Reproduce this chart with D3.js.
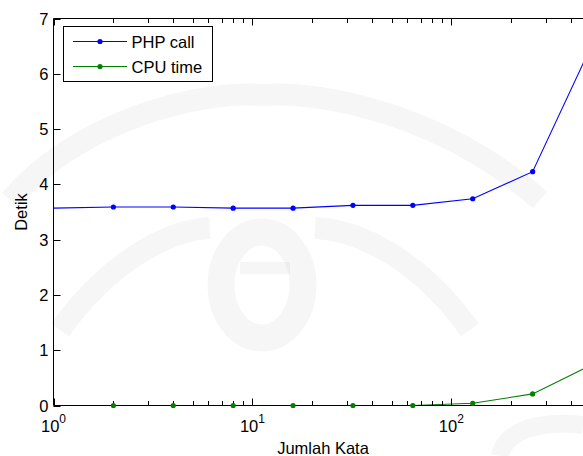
<!DOCTYPE html>
<html>
<head>
<meta charset="utf-8">
<script src="https://cdn.jsdelivr.net/npm/d3@7"></script>
<style>
  body { margin: 0; background: #fff; }
  svg { display: block; }
  text { font-family: "Liberation Sans", Arial, sans-serif; fill: #000; }
</style>
</head>
<body>
<div id="chart"></div>
<script>
// data
var jumlahKata = [1, 2, 4, 8, 16, 32, 64, 128, 256, 512];
var phpCall = [3.57, 3.59, 3.59, 3.57, 3.57, 3.62, 3.62, 3.74, 4.23, 6.55];
var cpuTime = [0, 0, 0, 0, 0, 0, 0, 0.04, 0.21, 0.74];
var seriesNames = ["PHP call", "CPU time"];
var seriesColors = ["#0000ff", "#008000"];
var yTicks = [0, 1, 2, 3, 4, 5, 6, 7];
var xDecades = [1, 10, 100];

var W = 583, H = 456;
var plotLeft = 53.5, plotTop = 18.5, plotBottom = 405.5, plotRight = 592.5;

var svg = d3.select("#chart").append("svg")
    .attr("width", W)
    .attr("height", H);

var x = d3.scaleLog().domain([1, 512]).range([plotLeft, plotRight]);
var y = d3.scaleLinear().domain([0, 7]).range([plotBottom, plotTop]);

// faint watermark behind everything
var wm = svg.append("g").attr("fill", "none").attr("stroke", "#000").attr("stroke-opacity", 0.035);
wm.append("ellipse").attr("cx", 262).attr("cy", 285).attr("rx", 41).attr("ry", 53).attr("stroke-width", 27);
wm.append("path").attr("d", "M240,268 L290,268").attr("stroke-width", 12);
wm.append("path").attr("d", "M10,200 C80,120 200,90 262,95 C330,90 450,120 540,200").attr("stroke-width", 22);
wm.append("path").attr("d", "M60,330 C110,260 170,230 210,228").attr("stroke-width", 22);
wm.append("path").attr("d", "M470,330 C420,260 360,230 315,228").attr("stroke-width", 22);
wm.append("path").attr("d", "M500,456 C505,430 540,420 583,425").attr("stroke-width", 18);

var lines = [phpCall, cpuTime].map(function(vals, i) {
  return {
    name: seriesNames[i],
    color: seriesColors[i],
    values: jumlahKata.map(function(k, j) { return {x: k, y: vals[j]}; })
  };
});

svg.append("clipPath").attr("id", "plotclip")
  .append("rect").attr("x", plotLeft).attr("y", plotTop - 5)
  .attr("width", plotRight - plotLeft).attr("height", plotBottom - plotTop + 10);

var line = d3.line()
    .x(function(d) { return x(d.x); })
    .y(function(d) { return y(d.y); });

var plot = svg.append("g").attr("clip-path", "url(#plotclip)");

lines.forEach(function(s) {
  plot.append("path")
      .datum(s.values)
      .attr("fill", "none")
      .attr("stroke", s.color)
      .attr("stroke-width", 1.1)
      .attr("d", line);
});

// minor ticks for the log axis
var minor = [];
xDecades.forEach(function(dec) {
  for (var m = 2; m <= 9; m++) {
    if (dec * m <= 512) minor.push(dec * m);
  }
});

var axis = svg.append("g").attr("stroke", "#000").attr("stroke-width", 1);

axis.append("path")
    .attr("fill", "none")
    .attr("d", "M" + (W + 20) + "," + plotTop + "H" + plotLeft + "V" + plotBottom + "H" + (W + 20));

// bottom + top ticks pointing inwards
axis.selectAll(".xmaj").data(xDecades).enter().append("path")
    .attr("d", function(d) {
      var px = Math.round(x(d)) + 0.5;
      return "M" + px + "," + plotBottom + "v-7M" + px + "," + plotTop + "v7";
    });
axis.selectAll(".xmin").data(minor).enter().append("path")
    .attr("d", function(d) {
      var px = Math.round(x(d)) + 0.5;
      return "M" + px + "," + plotBottom + "v-4.5M" + px + "," + plotTop + "v4.5";
    });
axis.selectAll(".ytk").data(yTicks).enter().append("path")
    .attr("d", function(d) {
      var py = Math.round(y(d)) + 0.5;
      return "M" + plotLeft + "," + py + "h7";
    });

// markers on top of the axis lines
lines.forEach(function(s) {
  svg.selectAll(null)
      .data(s.values.filter(function(d) { return d.x > 1; }))
    .enter().append("circle")
      .attr("cx", function(d) { return x(d.x); })
      .attr("cy", function(d) { return y(d.y); })
      .attr("r", 2.6)
      .attr("fill", s.color);
});

svg.selectAll(".ylab").data(yTicks).enter().append("text")
    .attr("x", 48.5)
    .attr("y", function(d) { return y(d) + 6; })
    .attr("text-anchor", "end")
    .style("font-size", "16.5px")
    .text(function(d) { return d; });

var xl = svg.selectAll(".xlab").data(xDecades).enter().append("text")
    .attr("x", function(d) { return x(d); })
    .attr("y", 432)
    .attr("text-anchor", "middle")
    .style("font-size", "16.5px");
xl.append("tspan").text("10");
xl.append("tspan")
    .attr("dy", -9)
    .style("font-size", "12px")
    .text(function(d) { return Math.round(Math.log10(d)); });

svg.append("text")
    .attr("x", (plotLeft + plotRight) / 2)
    .attr("y", 454)
    .attr("text-anchor", "middle")
    .style("font-size", "16.5px")
    .text("Jumlah Kata");

svg.append("text")
    .attr("transform", "translate(27," + ((plotTop + plotBottom) / 2) + ") rotate(-90)")
    .attr("text-anchor", "middle")
    .style("font-size", "16.5px")
    .text("Detik");

// legend
var lg = svg.append("g");
lg.append("rect")
    .attr("x", 63.5).attr("y", 26.5)
    .attr("width", 149).attr("height", 55)
    .attr("fill", "#fff")
    .attr("stroke", "#000");

lines.forEach(function(s, i) {
  var ly = 41.5 + i * 25;
  lg.append("path")
      .attr("d", "M73," + ly + "H127")
      .attr("stroke", s.color)
      .attr("stroke-width", 1.1);
  lg.append("circle")
      .attr("cx", 100).attr("cy", ly).attr("r", 2.6)
      .attr("fill", s.color);
  lg.append("text")
      .attr("x", 131.5)
      .attr("y", ly + 6.5)
      .style("font-size", "16.5px")
      .text(s.name);
});
</script>
</body>
</html>
